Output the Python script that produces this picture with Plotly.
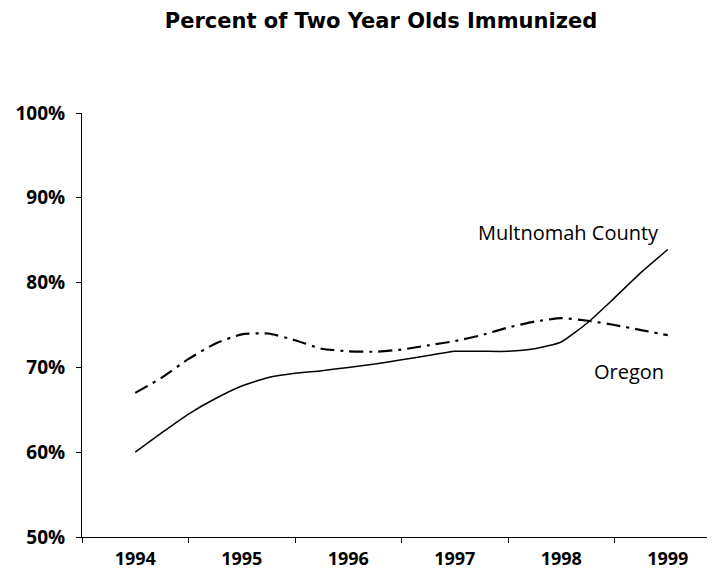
import plotly.graph_objects as go

# Data (quarterly points, 1994..1999)
years = [1994.00, 1994.25, 1994.50, 1994.75, 1995.00, 1995.25, 1995.50, 1995.75,
         1996.00, 1996.25, 1996.50, 1996.75, 1997.00, 1997.25, 1997.50, 1997.75,
         1998.00, 1998.25, 1998.50, 1998.75, 1999.00]
multnomah = [60.0, 62.3, 64.5, 66.3, 67.8, 68.8, 69.3, 69.6,
             70.0, 70.4, 70.9, 71.4, 71.9, 71.9, 71.9, 72.2,
             73.0, 75.3, 78.2, 81.2, 83.9]
oregon = [67.0, 68.8, 71.0, 72.8, 73.9, 74.0, 73.2, 72.2,
          71.9, 71.85, 72.1, 72.6, 73.1, 73.8, 74.7, 75.4,
          75.8, 75.5, 75.0, 74.4, 73.8]
year_labels = ["1994", "1995", "1996", "1997", "1998", "1999"]
year_ticks = [1994, 1995, 1996, 1997, 1998, 1999]
y_ticks = [50, 60, 70, 80, 90, 100]
y_tick_labels = ["50%", "60%", "70%", "80%", "90%", "100%"]

FONT = "Open Sans"
TITLE_FONT = "DejaVu Sans"

# page body has an 8px default margin; figure is sized/offset to compensate
W, H = 707, 572

fig = go.Figure()
fig.add_trace(go.Scatter(x=years, y=oregon, mode="lines", name="Oregon",
                         line=dict(color="black", width=2.2, dash="14px,6px,3px,6px",
                                   shape="spline", smoothing=0.5)))
fig.add_trace(go.Scatter(x=years, y=multnomah, mode="lines", name="Multnomah County",
                         line=dict(color="black", width=1.5, shape="spline", smoothing=0.5)))

fig.add_annotation(x=1998.94, y=85.85, text="Multnomah County", showarrow=False,
                   xanchor="right", yanchor="middle",
                   font=dict(family=FONT, size=20, color="black"))
fig.add_annotation(x=1998.98, y=69.46, text="Oregon", showarrow=False,
                   xanchor="right", yanchor="middle",
                   font=dict(family=FONT, size=20, color="black"))

fig.update_layout(
    width=W, height=H,
    margin=dict(l=74, r=0, t=105, b=43),
    paper_bgcolor="white", plot_bgcolor="white",
    showlegend=False,
    title=dict(text="<b>Percent of Two Year Olds Immunized</b>",
               x=373 / W, xanchor="center", y=1 - 13 / H, yanchor="middle",
               font=dict(family=TITLE_FONT, size=21, color="black")),
    xaxis=dict(range=[1993.5, 1993.5 + 633 / 106.5], tickvals=year_ticks,
               ticktext=["<b>%s</b>" % t for t in year_labels], ticks="",
               showgrid=False, zeroline=False, showline=True, linecolor="black",
               linewidth=1, tickfont=dict(family=FONT, size=18, color="black"),
               minor=dict(ticks="outside", tick0=1993.5, dtick=1, ticklen=5,
                          tickcolor="black", showgrid=False),
               ticklabelstandoff=5, automargin=False),
    yaxis=dict(range=[50, 100], tickvals=y_ticks,
               ticktext=["<b>%s</b>" % t for t in y_tick_labels],
               ticks="outside", ticklen=5, tickcolor="black",
               showgrid=False, zeroline=False, showline=True, linecolor="black",
               linewidth=1, tickfont=dict(family=FONT, size=19, color="black"),
               ticklabelstandoff=7, automargin=False),
)

fig.write_html("out.html")
